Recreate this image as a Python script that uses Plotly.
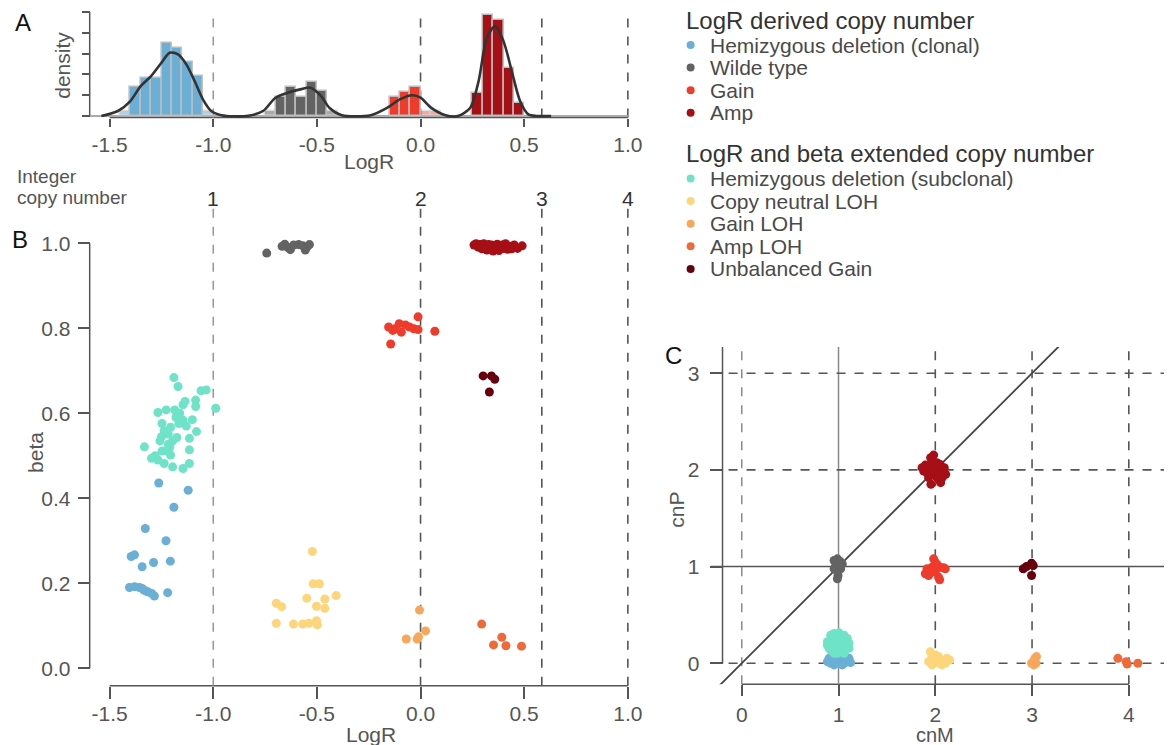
import plotly.graph_objects as go

W, H = 1168, 745
def PX(x): return x / W
def PY(y): return 1 - y / H

FONT = "Liberation Sans, Arial, Helvetica, sans-serif"
TICK_C = "#555555"
LINE_C = "#555555"

# ---------------- data ----------------
# Panel A histogram (density, bin width 0.05)
bin_width = 0.05
hist_clonal_x = [-1.425, -1.375, -1.325, -1.275, -1.225, -1.175, -1.125, -1.075, -1.025]
hist_clonal_y = [0.12, 0.70, 0.91, 0.91, 1.75, 1.63, 1.30, 0.95, 0.12]
hist_wt_x = [-0.725, -0.675, -0.625, -0.575, -0.525, -0.475, -0.425]
hist_wt_y = [0.12, 0.46, 0.70, 0.46, 0.82, 0.60, 0.12]
hist_gain_x = [-0.125, -0.075, -0.025, 0.025, 0.075]
hist_gain_y = [0.46, 0.58, 0.70, 0.12, 0.12]
hist_amp_x = [0.275, 0.325, 0.375, 0.425, 0.475]
hist_amp_y = [0.56, 2.43, 2.31, 1.16, 0.32]

# density curve
dens_x = [-1.54, -1.46, -1.40, -1.35, -1.30, -1.25, -1.21, -1.17, -1.13, -1.09, -1.05, -1.01,
          -0.96, -0.84, -0.76, -0.70, -0.64, -0.58, -0.53, -0.48, -0.44, -0.38, -0.24, -0.16,
          -0.10, -0.04, 0.00, 0.05, 0.12, 0.18, 0.24, 0.28, 0.32, 0.36, 0.40, 0.44, 0.48,
          0.52, 0.56, 0.63]
dens_y = [0.0, 0.12, 0.36, 0.72, 0.96, 1.28, 1.52, 1.48, 1.24, 0.84, 0.40, 0.12,
          0.02, 0.0, 0.12, 0.44, 0.56, 0.64, 0.68, 0.48, 0.20, 0.02, 0.02, 0.20,
          0.40, 0.50, 0.44, 0.20, 0.02, 0.0, 0.20, 0.84, 1.88, 2.16, 1.80, 1.08, 0.36,
          0.04, 0.0, 0.0]

# copy-number cut-offs on the LogR scale and their integer labels
cn_cutoffs = [-1.0, 0.0, 0.585, 1.0]
cn_labels = ["1", "2", "3", "4"]

logr_ticks = [-1.5, -1.0, -0.5, 0.0, 0.5, 1.0]
logr_ticktext = ["-1.5", "-1.0", "-0.5", "0.0", "0.5", "1.0"]
dens_ticks = [0, 0.5, 1.0, 1.5, 2.0, 2.5]
beta_ticks = [0.0, 0.2, 0.4, 0.6, 0.8, 1.0]
beta_ticktext = ["0.0", "0.2", "0.4", "0.6", "0.8", "1.0"]
cn_ticks_x = [0, 1, 2, 3, 4]
cn_ticks_y = [0, 1, 2, 3]

# Panel B: LogR vs beta
clonal_logr = [-1.263, -1.121, -1.190, -1.328, -1.228, -1.396, -1.380, -1.343, -1.288, -1.207,
               -1.220, -1.284, -1.404, -1.380, -1.356, -1.343, -1.335, -1.326, -1.316, -1.297]
clonal_beta = [0.436, 0.419, 0.379, 0.329, 0.300, 0.263, 0.267, 0.239, 0.249, 0.252,
               0.178, 0.170, 0.190, 0.192, 0.190, 0.188, 0.184, 0.182, 0.180, 0.176]
wt_logr = [-0.742, -0.668, -0.655, -0.640, -0.628, -0.612, -0.588, -0.568, -0.556, -0.548, -0.536]
wt_beta = [0.977, 0.993, 0.998, 0.990, 0.985, 0.996, 0.997, 0.994, 0.984, 0.991, 0.997]
gain_logr = [-0.154, -0.144, -0.134, -0.124, -0.103, -0.093, -0.073, -0.053, -0.032, -0.012, -0.012, 0.069]
gain_beta = [0.803, 0.763, 0.795, 0.799, 0.811, 0.791, 0.808, 0.803, 0.799, 0.827, 0.797, 0.793]
amp_logr = [0.258, 0.268, 0.278, 0.288, 0.296, 0.305, 0.312, 0.320, 0.328, 0.335, 0.342, 0.350, 0.356,
            0.363, 0.370, 0.378, 0.386, 0.394, 0.402, 0.410, 0.420, 0.430, 0.440, 0.452, 0.468, 0.490]
amp_beta = [0.996, 0.999, 0.991, 0.997, 0.987, 0.999, 0.993, 0.984, 0.997, 0.990, 0.996, 0.982, 0.994,
            0.988, 0.998, 0.983, 0.992, 0.996, 0.988, 0.999, 0.986, 0.993, 0.987, 0.996, 0.988, 0.994]
sub_logr = [-1.190, -1.170, -1.267, -1.227, -1.146, -1.136, -1.085, -1.085, -1.059, -1.034, -0.988,
            -1.332, -1.298, -1.267, -1.247, -1.237, -1.217, -1.206, -1.196, -1.227, -1.206, -1.237,
            -1.196, -1.146, -1.115, -1.115, -1.115, -1.101, -1.081, -1.166, -1.146, -1.176, -1.257,
            -1.217, -1.247, -1.186, -1.162, -1.250, -1.210, -1.130, -1.280, -1.180]
sub_beta = [0.684, 0.663, 0.602, 0.608, 0.620, 0.628, 0.631, 0.616, 0.653, 0.655, 0.612,
            0.521, 0.494, 0.490, 0.576, 0.559, 0.551, 0.567, 0.535, 0.511, 0.502, 0.482,
            0.474, 0.470, 0.482, 0.514, 0.541, 0.585, 0.557, 0.576, 0.584, 0.543, 0.535,
            0.527, 0.511, 0.608, 0.600, 0.545, 0.520, 0.570, 0.500, 0.590]
cnloh_logr = [-0.522, -0.518, -0.488, -0.549, -0.502, -0.462, -0.462, -0.407, -0.696, -0.670,
              -0.696, -0.613, -0.569, -0.539, -0.502, -0.498]
cnloh_beta = [0.275, 0.199, 0.199, 0.165, 0.146, 0.163, 0.141, 0.171, 0.153, 0.145,
              0.106, 0.104, 0.104, 0.106, 0.112, 0.102]
gainloh_logr = [-0.005, -0.069, -0.016, -0.010, 0.024]
gainloh_beta = [0.137, 0.069, 0.069, 0.074, 0.088]
amploh_logr = [0.295, 0.392, 0.352, 0.412, 0.487]
amploh_beta = [0.104, 0.073, 0.055, 0.053, 0.052]
unbal_logr = [0.302, 0.342, 0.358, 0.332]
unbal_beta = [0.688, 0.688, 0.680, 0.650]

# Panel C: cnM vs cnP
wt_cnm = [0.954, 0.988, 1.015, 0.971, 1.005, 0.981, 0.995, 1.022, 0.954, 0.988, 1.039]
wt_cnp = [1.063, 1.080, 1.056, 1.011, 0.994, 0.960, 0.908, 0.977, 0.977, 0.874, 1.028]
amp_cnm = [1.863, 1.897, 1.917, 1.952, 1.986, 2.021, 2.055, 2.089, 2.108, 2.072, 2.051, 2.017,
           1.983, 1.949, 1.914, 1.880, 1.955, 2.055, 1.952, 1.983, 2.017, 2.051, 1.931, 2.093]
amp_cnp = [2.023, 2.050, 2.030, 2.057, 2.023, 2.005, 1.995, 1.982, 1.954, 1.920, 1.886, 1.920,
           1.954, 1.971, 1.971, 1.988, 1.851, 1.868, 2.126, 2.153, 2.074, 2.057, 1.920, 2.023]
gain_cnm = [1.897, 1.931, 1.914, 1.966, 2.000, 1.983, 2.017, 2.051, 2.086, 2.103, 2.034, 2.045, 1.966, 2.010]
gain_cnp = [0.926, 0.908, 0.977, 0.994, 1.046, 1.080, 1.022, 0.994, 0.987, 0.977, 0.891, 0.864, 0.943, 0.967]
unbal_cnm = [2.909, 2.943, 2.995, 3.012, 2.995]
unbal_cnp = [0.977, 1.001, 1.035, 1.011, 0.908]
sub_cnm = [0.919, 0.954, 1.005, 1.057, 1.091, 1.108, 1.074, 1.039, 0.988, 0.937, 0.902, 0.885, 0.919,
           0.971, 1.022, 1.057, 1.005, 0.954, 0.919, 0.988, 1.039, 1.074, 1.108, 0.885, 0.954, 1.005,
           1.057, 0.954]
sub_cnp = [0.291, 0.309, 0.315, 0.291, 0.257, 0.206, 0.154, 0.120, 0.103, 0.120, 0.154, 0.223, 0.240,
           0.257, 0.240, 0.206, 0.189, 0.189, 0.137, 0.154, 0.274, 0.240, 0.154, 0.189, 0.240, 0.274,
           0.103, 0.103]
clonal_cnm = [0.885, 0.919, 0.954, 0.971, 1.005, 1.022, 1.057, 1.091, 1.125, 1.108, 0.988, 0.937,
              0.902, 1.039, 0.954, 1.074]
clonal_cnp = [0.017, 0.000, 0.051, 0.007, 0.000, 0.034, 0.000, 0.017, 0.007, 0.051, 0.069, 0.086,
              0.051, -0.017, -0.017, 0.062]
cnloh_cnm = [1.949, 1.966, 1.931, 1.983, 2.017, 2.051, 2.086, 2.120, 2.148, 2.034, 2.000, 2.069, 1.966, 2.103]
cnloh_cnp = [0.120, 0.069, 0.017, 0.000, 0.034, 0.000, 0.017, 0.051, 0.034, 0.069, 0.086, -0.017, -0.017, 0.000]
gainloh_cnm = [3.012, 3.029, 3.046, 2.995, 3.040, 3.019]
gainloh_cnp = [0.017, 0.051, 0.069, 0.000, 0.000, -0.017]
amploh_cnm = [3.887, 3.973, 3.983, 4.093]
amploh_cnp = [0.051, 0.017, -0.007, 0.000]
identity_line = [-1.0, 5.0]

# legend
legend_title_1 = "LogR derived copy number"
legend_names_1 = ["Hemizygous deletion (clonal)", "Wilde type", "Gain", "Amp"]
legend_title_2 = "LogR and beta extended copy number"
legend_names_2 = ["Hemizygous deletion (subclonal)", "Copy neutral LOH", "Gain LOH", "Amp LOH", "Unbalanced Gain"]

# ---------------- styles ----------------
COL = {
    "clonal": "#6BAED6", "wt": "#636363", "gain": "#EF3B2C", "amp": "#A50F15",
    "sub": "#6FE3C8", "cnloh": "#FDD67C", "gainloh": "#F8A75A", "amploh": "#EE6A38",
    "unbal": "#67000D",
}
legend_cols_1 = [COL["clonal"], COL["wt"], COL["gain"], COL["amp"]]
legend_cols_2 = [COL["sub"], COL["cnloh"], COL["gainloh"], COL["amploh"], COL["unbal"]]

fig = go.Figure()

# ---------- Panel A ----------
hist_sets = [
    (hist_clonal_x, hist_clonal_y, COL["clonal"], [0.55, 1, 1, 1, 1, 1, 1, 1, 0.55]),
    (hist_wt_x, hist_wt_y, COL["wt"], [0.55, 1, 1, 1, 1, 1, 0.55]),
    (hist_gain_x, hist_gain_y, COL["gain"], [1, 1, 1, 0.45, 0.45]),
    (hist_amp_x, hist_amp_y, COL["amp"], [1, 1, 1, 1, 1]),
]
for hx, hy, c, op in hist_sets:
    fig.add_trace(go.Bar(x=hx, y=hy, width=bin_width, xaxis="x", yaxis="y",
                         marker=dict(color=c, opacity=op, line=dict(color="#BDBDBD", width=1.5)),
                         showlegend=False, hoverinfo="skip"))
fig.add_trace(go.Scatter(x=dens_x, y=dens_y, xaxis="x", yaxis="y", mode="lines",
                         line=dict(color="#333333", width=2.6, shape="spline", smoothing=0.8),
                         showlegend=False, hoverinfo="skip"))

# ---------- Panel B ----------
B_sets = [
    (clonal_logr, clonal_beta, COL["clonal"]), (sub_logr, sub_beta, COL["sub"]),
    (wt_logr, wt_beta, COL["wt"]), (cnloh_logr, cnloh_beta, COL["cnloh"]),
    (gain_logr, gain_beta, COL["gain"]), (gainloh_logr, gainloh_beta, COL["gainloh"]),
    (amp_logr, amp_beta, COL["amp"]), (amploh_logr, amploh_beta, COL["amploh"]),
    (unbal_logr, unbal_beta, COL["unbal"]),
]
for bx, by, c in B_sets:
    fig.add_trace(go.Scatter(x=bx, y=by, xaxis="x2", yaxis="y2", mode="markers",
                             marker=dict(color=c, size=9, line=dict(width=0)),
                             cliponaxis=False, showlegend=False, hoverinfo="skip"))

# ---------- Panel C ----------
fig.add_trace(go.Scatter(x=identity_line, y=identity_line, xaxis="x3", yaxis="y3", mode="lines",
                         line=dict(color="#444444", width=1.8), showlegend=False, hoverinfo="skip"))
C_sets = [
    (clonal_cnm, clonal_cnp, COL["clonal"]), (sub_cnm, sub_cnp, COL["sub"]),
    (wt_cnm, wt_cnp, COL["wt"]), (cnloh_cnm, cnloh_cnp, COL["cnloh"]),
    (gain_cnm, gain_cnp, COL["gain"]), (gainloh_cnm, gainloh_cnp, COL["gainloh"]),
    (amp_cnm, amp_cnp, COL["amp"]), (amploh_cnm, amploh_cnp, COL["amploh"]),
    (unbal_cnm, unbal_cnp, COL["unbal"]),
]
for cx, cy, c in C_sets:
    fig.add_trace(go.Scatter(x=cx, y=cy, xaxis="x3", yaxis="y3", mode="markers",
                             marker=dict(color=c, size=9, line=dict(width=0)),
                             cliponaxis=False, showlegend=False, hoverinfo="skip"))

# ---------- Legend (hand-drawn) ----------
LEG_X_DOT, LEG_X_TXT = 693, 710
leg1_y0, leg2_y0, leg_step = 45, 178.5, 22.6
names_all = legend_names_1 + legend_names_2
cols_all = legend_cols_1 + legend_cols_2
ys_all = [leg1_y0 + i * leg_step for i in range(len(legend_names_1))] + \
         [leg2_y0 + i * leg_step for i in range(len(legend_names_2))]
fig.add_trace(go.Scatter(x=[LEG_X_DOT] * len(ys_all), y=ys_all, xaxis="x4", yaxis="y4",
                         mode="markers", marker=dict(color=cols_all, size=8),
                         cliponaxis=False, showlegend=False, hoverinfo="skip"))

annotations = []
for name, yy in zip(names_all, ys_all):
    annotations.append(dict(text=name, x=LEG_X_TXT, y=yy, xref="x4", yref="y4", xanchor="left",
                            yanchor="middle", showarrow=False, font=dict(size=21, color="#4a4a4a")))
for title, yy in [(legend_title_1, 20), (legend_title_2, 153)]:
    annotations.append(dict(text=title, x=686, y=yy, xref="x4", yref="y4", xanchor="left",
                            yanchor="middle", showarrow=False, font=dict(size=24, color="#333333")))

def ann(text, x, y, size=21, color="#555555", angle=0, xanchor="center"):
    annotations.append(dict(text=text, x=PX(x), y=PY(y), xref="paper", yref="paper",
                            xanchor=xanchor, yanchor="middle", showarrow=False, textangle=angle,
                            font=dict(size=size, color=color)))

ann("A", 23, 22, size=24, color="#111111")
ann("B", 20, 240, size=24, color="#111111")
ann("C", 676, 355, size=24, color="#111111")
ann("density", 63, 65, angle=-90)
ann("LogR", 370, 162)
ann("LogR", 372, 734)
ann("beta", 35, 452, angle=-90)
ann("cnP", 678, 510, angle=-90)
ann("cnM", 938, 735, size=20)
ann("Integer", 15, 177, size=19, xanchor="left")
ann("copy number", 15, 197, size=19, xanchor="left")
for cut, lab in zip(cn_cutoffs, cn_labels):
    annotations.append(dict(text=lab, x=cut, y=PY(198), xref="x2", yref="paper", xanchor="center",
                            yanchor="middle", showarrow=False, font=dict(size=21, color="#333333")))

# ---------- shapes ----------
shapes = []
def line(x0, y0, x1, y1, xref, yref, color=LINE_C, width=1.5, dash="solid", layer="below"):
    shapes.append(dict(type="line", x0=x0, y0=y0, x1=x1, y1=y1, xref=xref, yref=yref,
                       line=dict(color=color, width=width, dash=dash), layer=layer))

# Panel A axes and cut-off lines
line(PX(90), 0, PX(90), dens_ticks[-1], "paper", "y")
line(logr_ticks[0], PY(117.5), logr_ticks[-1], PY(117.5), "x", "paper")
line(-1.6, 0, logr_ticks[-1], 0, "x", "y", color="#ABABAB", width=2)
for cut in cn_cutoffs:
    col = "#9A9A9A" if cut < 0 else "#555555"
    line(cut, PY(117.5), cut, PY(12), "x", "paper", color=col, width=1.6, dash="dash")
# Panel B axes and cut-off lines
line(PX(90), 0, PX(90), 1.0, "paper", "y2")
line(logr_ticks[0], PY(685.7), logr_ticks[-1], PY(685.7), "x2", "paper")
for cut in cn_cutoffs:
    col = "#9A9A9A" if cut < 0 else "#555555"
    line(cut, PY(685.7), cut, PY(207), "x2", "paper", color=col, width=1.6, dash="dash")
# Panel C axes and grid
line(PX(725), 0, PX(725), 3.2709, "paper", "y3")
line(0, PY(684.3), 4, PY(684.3), "x3", "paper")
for v in cn_ticks_x:
    if v == 0:
        line(v, -0.2172, v, 3.2709, "x3", "y3", color="#8A8A8A", width=1.5, dash="dash")
    elif v == 1:
        line(v, -0.2172, v, 3.2709, "x3", "y3", color="#8A8A8A", width=1.5)
    else:
        line(v, -0.2172, v, 3.2709, "x3", "y3", color="#555555", width=1.6, dash="dash")
for h in cn_ticks_y:
    if h == 1:
        line(-0.3224, h, 4.3636, h, "x3", "y3", color="#555555", width=1.5)
    else:
        line(-0.3224, h, 4.3636, h, "x3", "y3", color="#555555", width=1.6, dash="dash")

tickfont = dict(size=21, color=TICK_C, family=FONT)
common = dict(showgrid=False, zeroline=False, showline=False, ticks="outside",
              tickcolor=LINE_C, tickwidth=1.5, tickfont=tickfont)

fig.update_layout(
    width=W, height=H, margin=dict(l=0, r=0, t=0, b=0),
    paper_bgcolor="white", plot_bgcolor="rgba(0,0,0,0)",
    font=dict(family=FONT, color="#555555"),
    showlegend=False, bargap=0, barmode="overlay", hovermode=False,
    xaxis=dict(domain=[PX(89.2), PX(640.4)], range=[-1.6, 1.05], anchor="free", position=PY(117.5),
               tickvals=logr_ticks, ticktext=logr_ticktext, ticklen=8, ticklabelstandoff=0, **common),
    yaxis=dict(domain=[PY(122), PY(10)], range=[-0.1442, 2.548], anchor="free", position=PX(90),
               tickvals=dens_ticks, showticklabels=False, ticklen=8, **common),
    xaxis2=dict(domain=[PX(89.2), PX(640.4)], range=[-1.6, 1.05], anchor="free", position=PY(685.7),
                tickvals=logr_ticks, ticktext=logr_ticktext, ticklen=12, ticklabelstandoff=-3, **common),
    yaxis2=dict(domain=[PY(692), PY(200)], range=[-0.0558, 1.1019], anchor="free", position=PX(90),
                tickvals=beta_ticks, ticktext=beta_ticktext, ticklen=12, ticklabelstandoff=3, **common),
    xaxis3=dict(domain=[PX(713), 1.0], range=[-0.3224, 4.3636], anchor="free", position=PY(684.3),
                tickvals=cn_ticks_x, ticklen=11, ticklabelstandoff=0, **common),
    yaxis3=dict(domain=[PY(684.3), PY(347)], range=[-0.2172, 3.2709], anchor="free", position=PX(725),
                tickvals=cn_ticks_y, ticklen=13, ticklabelstandoff=6, **common),
    xaxis4=dict(domain=[PX(680), 1.0], range=[680, 1168], visible=False, anchor="y4"),
    yaxis4=dict(domain=[PY(290), 1.0], range=[290, 0], visible=False, anchor="x4"),
    shapes=shapes, annotations=annotations,
)

fig.write_html("out.html", config={"displayModeBar": False})
